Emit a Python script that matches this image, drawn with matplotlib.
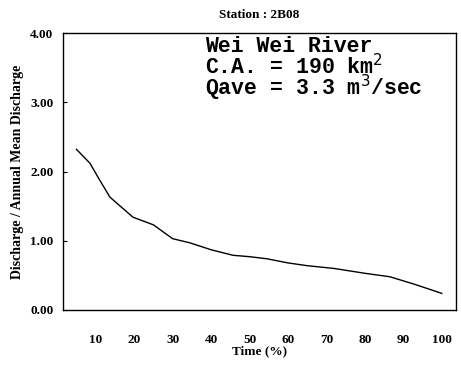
import matplotlib
matplotlib.use("Agg")
import matplotlib.pyplot as plt

time_pct = [5, 8.5, 11, 13.7, 17, 19.7, 25, 30, 34.5, 40, 45.7, 50, 54.5, 60, 65, 72, 80, 86.5, 93, 100]
ratio = [2.32, 2.12, 1.88, 1.63, 1.47, 1.34, 1.23, 1.03, 0.97, 0.87, 0.79, 0.77, 0.74, 0.68, 0.64, 0.60, 0.53, 0.48, 0.37, 0.24]
x_ticks = [10, 20, 30, 40, 50, 60, 70, 80, 90, 100]
y_ticks = [0, 1, 2, 3, 4]

fig = plt.figure(figsize=(4.61, 3.70), dpi=100)
ax = fig.add_axes([63/461, 60/370, (456-63)/461, (310-33)/370])

ax.plot(time_pct, ratio, color="black", lw=1.0)
ax.set_xlim(1.5, 103.7)
ax.set_ylim(0, 4)
ax.set_xticks(x_ticks)
ax.set_yticks(y_ticks)
ax.set_yticklabels([f"{v:.2f}" for v in y_ticks])
serif = "Liberation Serif"
for lab in ax.get_xticklabels() + ax.get_yticklabels():
    lab.set_fontfamily(serif)
    lab.set_fontweight("bold")
    lab.set_fontsize(9.5)
ax.tick_params(axis="x", length=0, pad=17)
ax.tick_params(axis="y", length=3, direction="in", pad=7)
for s in ax.spines.values():
    s.set_linewidth(1.0)
    s.set_color("black")

ax.set_xlabel("Time (%)", fontfamily=serif, fontweight="bold", fontsize=9.5, labelpad=0)
ax.set_ylabel("Discharge / Annual Mean Discharge", fontfamily=serif, fontweight="bold", fontsize=10, labelpad=4)
fig.text(259/461, 1 - 15/370, "Station : 2B08", fontfamily=serif, fontweight="bold", fontsize=9.5, ha="center", va="center")

mono = "Liberation Mono"
lines = ["Wei Wei River", r"C.A. = 190 km$^2$", r"Qave = 3.3 m$^3$/sec"]
ys = [46, 67, 88]
for t, yy in zip(lines, ys):
    fig.text(205/461, 1 - yy/370, t, fontfamily=mono, fontweight="bold", fontsize=15.5,
             ha="left", va="center")

fig.savefig("out.png", dpi=100)
